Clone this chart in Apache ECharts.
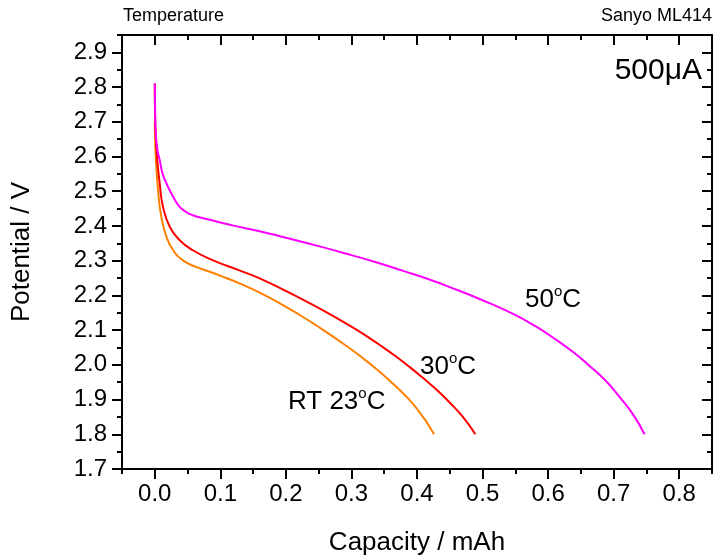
<!DOCTYPE html>
<html>
<head>
    <meta charset="utf-8"/>
    <title>Sanyo ML414</title>
    <script type="text/javascript" src="https://cdn.jsdelivr.net/npm/echarts@6/dist/echarts.min.js"></script>
    <style>
        html, body { margin: 0; padding: 0; background: #fff; }
        #main { width: 717px; height: 557px; }
    </style>
</head>
<body>
<div id="main"></div>
<script type="text/javascript">
    // tick positions
    var xMajor = [0, 0.1, 0.2, 0.3, 0.4, 0.5, 0.6, 0.7, 0.8];
    var xMinor = [-0.05, 0.05, 0.15, 0.25, 0.35, 0.45, 0.55, 0.65, 0.75, 0.85];
    var yMajor = [1.7, 1.8, 1.9, 2.0, 2.1, 2.2, 2.3, 2.4, 2.5, 2.6, 2.7, 2.8, 2.9];
    var yMinor = [1.75, 1.85, 1.95, 2.05, 2.15, 2.25, 2.35, 2.45, 2.55, 2.65, 2.75, 2.85, 2.95];

    // 50 C
    var cap50 = [0, 0.0005, 0.0015, 0.004, 0.0076, 0.012, 0.018, 0.028, 0.038, 0.048, 0.058, 0.079, 0.10, 0.12, 0.16, 0.20, 0.25, 0.30, 0.34, 0.38, 0.42, 0.45, 0.50, 0.545, 0.58, 0.61, 0.64, 0.662, 0.69, 0.707, 0.73, 0.747];
    var pot50 = [2.81, 2.74, 2.667, 2.62, 2.589, 2.55, 2.522, 2.484, 2.455, 2.44, 2.431, 2.42, 2.41, 2.401, 2.385, 2.366, 2.342, 2.316, 2.294, 2.27, 2.245, 2.224, 2.186, 2.148, 2.112, 2.075, 2.034, 1.999, 1.95, 1.912, 1.856, 1.80];
    // 30 C
    var cap30 = [0, 0.0003, 0.0026, 0.0076, 0.0126, 0.023, 0.038, 0.058, 0.089, 0.129, 0.16, 0.205, 0.24, 0.271, 0.30, 0.322, 0.345, 0.368, 0.39, 0.408, 0.43, 0.449, 0.47, 0.489];
    var pot30 = [2.81, 2.734, 2.618, 2.522, 2.455, 2.397, 2.359, 2.33, 2.301, 2.272, 2.249, 2.208, 2.174, 2.142, 2.11, 2.084, 2.055, 2.024, 1.992, 1.964, 1.928, 1.893, 1.85, 1.80];
    // RT 23 C
    var capRT = [0, 0.0015, 0.005, 0.010, 0.0178, 0.028, 0.043, 0.063, 0.084, 0.109, 0.13, 0.16, 0.19, 0.22, 0.246, 0.286, 0.327, 0.363, 0.398, 0.426];
    var potRT = [2.70, 2.60, 2.503, 2.426, 2.369, 2.33, 2.301, 2.282, 2.268, 2.25, 2.234, 2.208, 2.178, 2.145, 2.114, 2.063, 2.005, 1.946, 1.878, 1.80];

    function pairs(xs, ys) {
        var out = [];
        for (var i = 0; i < xs.length; i++) out.push([xs[i], ys[i]]);
        return out;
    }

    var FONT = 'Liberation Sans, Arial, sans-serif';
    var black = '#000';

    function xAx(pos, values, len, inside, labels, line) {
        return {
            type: 'value', position: pos, min: -0.05, max: 0.85,
            splitLine: { show: false },
            axisLine: { show: line, onZero: false, lineStyle: { color: black, width: 2 } },
            axisTick: { show: true, customValues: values, inside: inside, length: len, lineStyle: { color: black, width: 2 } },
            axisLabel: labels ? {
                show: true, customValues: values, margin: 13,
                fontFamily: FONT, fontSize: 24, color: black,
                formatter: function (v) { return v.toFixed(1); }
            } : { show: false },
            name: labels ? 'Capacity / mAh' : '',
            nameLocation: 'middle', nameGap: 61,
            nameTextStyle: { fontFamily: FONT, fontSize: 26, color: black }
        };
    }
    function yAx(pos, values, len, inside, labels, line) {
        return {
            type: 'value', position: pos, min: 1.7, max: 2.95,
            splitLine: { show: false },
            axisLine: { show: line, onZero: false, lineStyle: { color: black, width: 2 } },
            axisTick: { show: true, customValues: values, inside: inside, length: len, lineStyle: { color: black, width: 2 } },
            axisLabel: labels ? {
                show: true, customValues: values, margin: 15,
                fontFamily: FONT, fontSize: 24, color: black,
                formatter: function (v) { return v.toFixed(1); }
            } : { show: false },
            name: labels ? 'Potential / V' : '',
            nameLocation: 'middle', nameGap: 87,
            nameTextStyle: { fontFamily: FONT, fontSize: 26, color: black }
        };
    }

    var richDeg = {
        n: { fontFamily: FONT, fontSize: 26, lineHeight: 32, fill: black },
        s: { fontFamily: FONT, fontSize: 15, lineHeight: 14, verticalAlign: 'top', fill: black }
    };

    function degLabel(prefix, left, cy) {
        return {
            type: 'text', left: left, top: cy - 16,
            style: { text: '{n|' + prefix + '}{s|o}{n|C}', fill: black, rich: richDeg }
        };
    }

    var myChart = echarts.init(document.getElementById('main'), null, { renderer: 'canvas' });
    var option = {
        backgroundColor: '#fff',
        animation: false,
        grid: { left: 122, top: 35, right: 5, bottom: 88, containLabel: false, outerBoundsMode: 'none' },
        xAxis: [
            xAx('bottom', xMajor, 10, false, true, true),
            xAx('bottom', xMinor, 5, false, false, false),
            xAx('top', xMajor, 10, true, false, true),
            xAx('top', xMinor, 5, true, false, false)
        ],
        yAxis: [
            yAx('left', yMajor, 10, false, true, true),
            yAx('left', yMinor, 5, false, false, false),
            yAx('right', yMajor, 10, true, false, true),
            yAx('right', yMinor, 5, true, false, false)
        ],
        series: [
            {
                name: 'RT 23C', type: 'line', showSymbol: false, smooth: 0.5,
                lineStyle: { color: '#ff8000', width: 2 },
                data: pairs(capRT, potRT)
            },
            {
                name: '30C', type: 'line', showSymbol: false, smooth: 0.5,
                lineStyle: { color: '#ff0000', width: 2 },
                data: pairs(cap30, pot30)
            },
            {
                name: '50C', type: 'line', showSymbol: false, smooth: 0.5,
                lineStyle: { color: '#ff00ff', width: 2 },
                data: pairs(cap50, pot50)
            }
        ],
        graphic: [
            { type: 'text', left: 123, top: 7, style: { text: 'Temperature', font: '18px ' + FONT, fill: black } },
            { type: 'text', right: 5, top: 7, style: { text: 'Sanyo ML414', font: '18px ' + FONT, fill: black } },
            { type: 'text', right: 15, top: 56, style: { text: '500μA', font: '30px ' + FONT, fill: black } },
            degLabel('RT 23', 288, 402),
            degLabel('30', 420, 367),
            degLabel('50', 525, 300)
        ]
    };
    myChart.setOption(option);
</script>
</body>
</html>
